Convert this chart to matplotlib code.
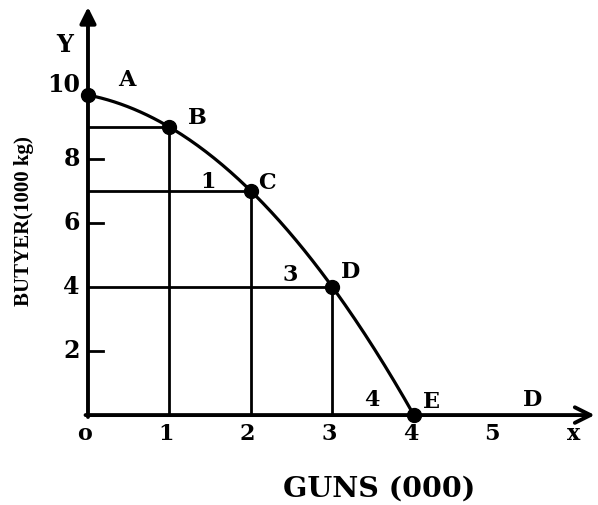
import numpy as np
import matplotlib.pyplot as plt

# production possibility schedule
points = ['A', 'B', 'C', 'D', 'E']
guns = [0, 1, 2, 3, 4]
butter = [10, 9, 7, 4, 0]

x_ticks = [0, 1, 2, 3, 4, 5, 6]
x_tick_labels = ['o', '1', '2', '3', '4', '5', 'x']
y_ticks = [2, 4, 6, 8, 10]
y_tick_labels = ['2', '4', '6', '8', '10']
small_ticks = [2, 6, 8]

# numbers written next to the guide lines
step_labels = ['1', '3', '4']
step_x = [1.47, 2.48, 3.48]
step_y = [7.28, 4.37, 0.47]

# where the point letters sit relative to their point
label_dx = [0.48, 0.34, 0.2, 0.22, 0.22]
label_dy = [0.47, 0.28, 0.25, 0.47, 0.4]

fig = plt.figure(figsize=(5.98, 5.05), dpi=100)
ax = fig.add_axes([0, 0, 1, 1])
ax.set_xlim(-1.08, 6.26)
ax.set_ylim(-2.81, 12.97)
ax.axis('off')

serif = 'DejaVu Serif'
fs = 16

# axes with arrows
ax.annotate('', xy=(0, 12.75), xytext=(0, -0.06),
            arrowprops=dict(arrowstyle='-|>', lw=2.8, color='black',
                            mutation_scale=24, shrinkA=0, shrinkB=0))
ax.annotate('', xy=(6.22, 0), xytext=(-0.03, 0),
            arrowprops=dict(arrowstyle='->', lw=2.8, color='black',
                            mutation_scale=28, shrinkA=0, shrinkB=0))

# guide lines from B, C, D
for gx, by in zip(guns[1:4], butter[1:4]):
    ax.plot([0, gx], [by, by], color='black', lw=2)
    ax.plot([gx, gx], [0, by], color='black', lw=2)

# little ticks on the y axis
for t in small_ticks:
    ax.plot([0, 0.18], [t, t], color='black', lw=2)

# the curve, a quadratic fitted to the points
coef = np.polyfit(guns, butter, 2)
xs = np.linspace(guns[0], guns[-1], 200)
ax.plot(xs, np.polyval(coef, xs), color='black', lw=2.3)
ax.plot(guns, butter, 'o', color='black', markersize=10)

for p, gx, by, dx, dy in zip(points, guns, butter, label_dx, label_dy):
    ax.text(gx + dx, by + dy, p, fontsize=fs, fontweight='heavy',
            family=serif, ha='center', va='center')
ax.text(5.46, 0.47, 'D', fontsize=fs, fontweight='heavy', family=serif,
        ha='center', va='center')

for s, sx, sy in zip(step_labels, step_x, step_y):
    ax.text(sx, sy, s, fontsize=fs, fontweight='heavy', family=serif,
            ha='center', va='center')

for t, lab in zip(x_ticks, x_tick_labels):
    ax.text(t - 0.04, -0.58, lab, fontsize=fs, fontweight='heavy',
            family=serif, ha='center', va='center')
for t, lab in zip(y_ticks, y_tick_labels):
    off = 0.3 if lab == '10' else 0
    ax.text(-0.1, t + off, lab, fontsize=17, fontweight='heavy',
            family=serif, ha='right', va='center')
ax.text(-0.28, 11.56, 'Y', fontsize=17, fontweight='heavy', family=serif,
        ha='center', va='center')

ax.text(3.58, -2.3, 'GUNS (000)', fontsize=20.5, fontweight='heavy',
        family=serif, ha='center', va='center')
ax.text(-0.79, 6.05, 'BUTYER(1000 kg)', fontsize=15, fontweight='bold',
        family='Liberation Serif', rotation=90, ha='center', va='center')

fig.savefig('out.png', dpi=100)
